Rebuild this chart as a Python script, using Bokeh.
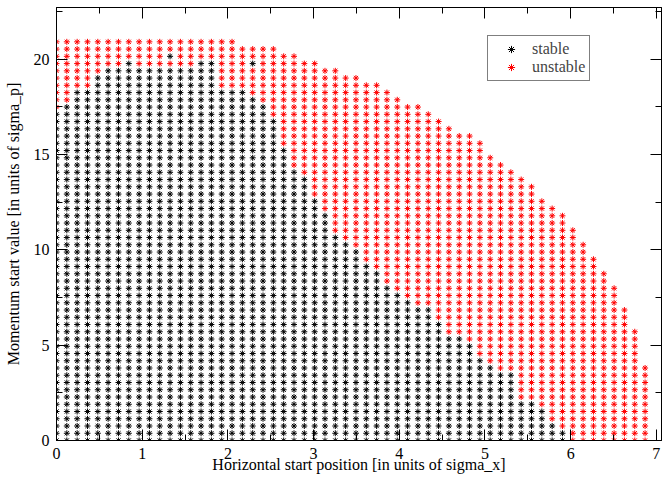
import numpy as np
from bokeh.plotting import figure
from bokeh.models import (Range1d, LinearAxis, Legend, LegendItem, FixedTicker,
                          CustomJSTickFormatter)
from bokeh.embed import file_html
from bokeh.resources import INLINE

# grid spacing of the scanned start values (sigma units)
x_step = 0.1205
y_step = 0.38

# highest row index present in each column (outer boundary of the scan)
column_top = [55, 55, 55, 55, 55, 55, 55, 55, 55, 55, 55, 55, 55, 55, 55, 55, 55, 55,
              54, 54, 54, 54, 53, 53, 52, 52, 51, 51, 50, 50, 49, 49, 48, 47, 46, 46,
              45, 44, 43, 42, 42, 41, 39, 38, 37, 36, 35, 33, 32, 31, 29, 27, 25, 23,
              21, 18, 15, 10]

# highest row index that is still stable in each column (-1: none)
stable_top = [45, 46, 48, 48, 50, 51, 51, 52, 51, 51, 51, 51, 51, 51, 52, 52, 48, 48,
              48, 47, 46, 44, 40, 37, 36, 33, 31, 28, 27, 26, 24, 23, 21, 20, 19, 18,
              18, 16, 14, 14, 13, 11, 10, 9, 9, 5, 5, 4, 2, 1, -1, -1, -1, -1,
              -1, -1, -1, -1]

# isolated stable points above the stability edge (column, row)
extra_stable_col = [11, 19]
extra_stable_row = [53, 52]

x_ticks = [0, 1, 2, 3, 4, 5, 6, 7]
y_ticks = [0, 5, 10, 15, 20]

extras = set(zip(extra_stable_col, extra_stable_row))
sx, sy, ux, uy = [], [], [], []
for i, top in enumerate(column_top):
    for j in range(top + 1):
        if j <= stable_top[i] or (i, j) in extras:
            sx.append(i * x_step); sy.append(j * y_step)
        else:
            ux.append(i * x_step); uy.append(j * y_step)

FONT = "Liberation Serif"

p = figure(width=668, height=485, output_backend="svg", toolbar_location=None,
           x_range=Range1d(0, 7.06), y_range=Range1d(0, 22.7),
           min_border_left=56, min_border_top=7, min_border_right=7, min_border_bottom=45,
           x_axis_label="Horizontal start position [in units of sigma_x]",
           y_axis_label="Momentum start value [in units of sigma_p]")
p.outline_line_color = "black"
p.outline_line_width = 1
p.xgrid.visible = False
p.ygrid.visible = False
p.background_fill_color = "white"

r_s = p.scatter(sx, sy, marker="asterisk", size=6, line_color="black", line_width=1)
r_u = p.scatter(ux, uy, marker="asterisk", size=6, line_color="red", line_width=1)
# small markers used only as legend samples (no visible data point)
l_s = p.scatter([np.nan], [np.nan], marker="asterisk", size=4, line_color="black", line_width=1)
l_u = p.scatter([np.nan], [np.nan], marker="asterisk", size=4, line_color="red", line_width=1)

def style_axis(ax):
    ax.axis_line_color = "black"
    ax.major_tick_in = 11
    ax.major_tick_out = 0
    ax.minor_tick_in = 6
    ax.minor_tick_out = 0
    ax.major_tick_line_color = "black"
    ax.minor_tick_line_color = "black"
    ax.major_label_text_font = FONT
    ax.major_label_text_font_size = "16px"
    ax.major_label_text_color = "black"
    ax.axis_label_text_font = FONT
    ax.axis_label_text_font_size = "16px"
    ax.axis_label_text_font_style = "normal"
    ax.axis_label_text_color = "black"

xa = p.xaxis[0]
ya = p.yaxis[0]
xa.ticker = FixedTicker(ticks=x_ticks, minor_ticks=[v + 0.5 for v in x_ticks])
ya.ticker = FixedTicker(ticks=y_ticks, minor_ticks=[v + 2.5 for v in y_ticks])
style_axis(xa); style_axis(ya)
xa.major_label_standoff = 7
xa.axis_label_standoff = -6
ya.major_label_standoff = 7
ya.axis_label_standoff = 9

blank = CustomJSTickFormatter(code="return ''")
top_ax = LinearAxis(ticker=FixedTicker(ticks=x_ticks, minor_ticks=[v + 0.5 for v in x_ticks]),
                    formatter=blank)
right_ax = LinearAxis(ticker=FixedTicker(ticks=y_ticks, minor_ticks=[v + 2.5 for v in y_ticks]),
                      formatter=blank)
for ax in (top_ax, right_ax):
    style_axis(ax)
    ax.major_label_standoff = 0
    ax.major_label_text_font_size = "1px"
p.add_layout(top_ax, "above")
p.add_layout(right_ax, "right")

legend = Legend(items=[LegendItem(label="stable", renderers=[l_s]),
                       LegendItem(label="unstable", renderers=[l_u])],
                location=(431, 359))
legend.margin = 0
legend.padding = 4
legend.spacing = 0
legend.glyph_width = 38
legend.glyph_height = 18
legend.label_height = 18
legend.label_standoff = 2
legend.label_text_font = FONT
legend.label_text_font_size = "16px"
legend.border_line_color = "black"
legend.border_line_width = 1
legend.background_fill_alpha = 1
p.add_layout(legend, "center")

open("out.html", "w").write(file_html(p, INLINE))
